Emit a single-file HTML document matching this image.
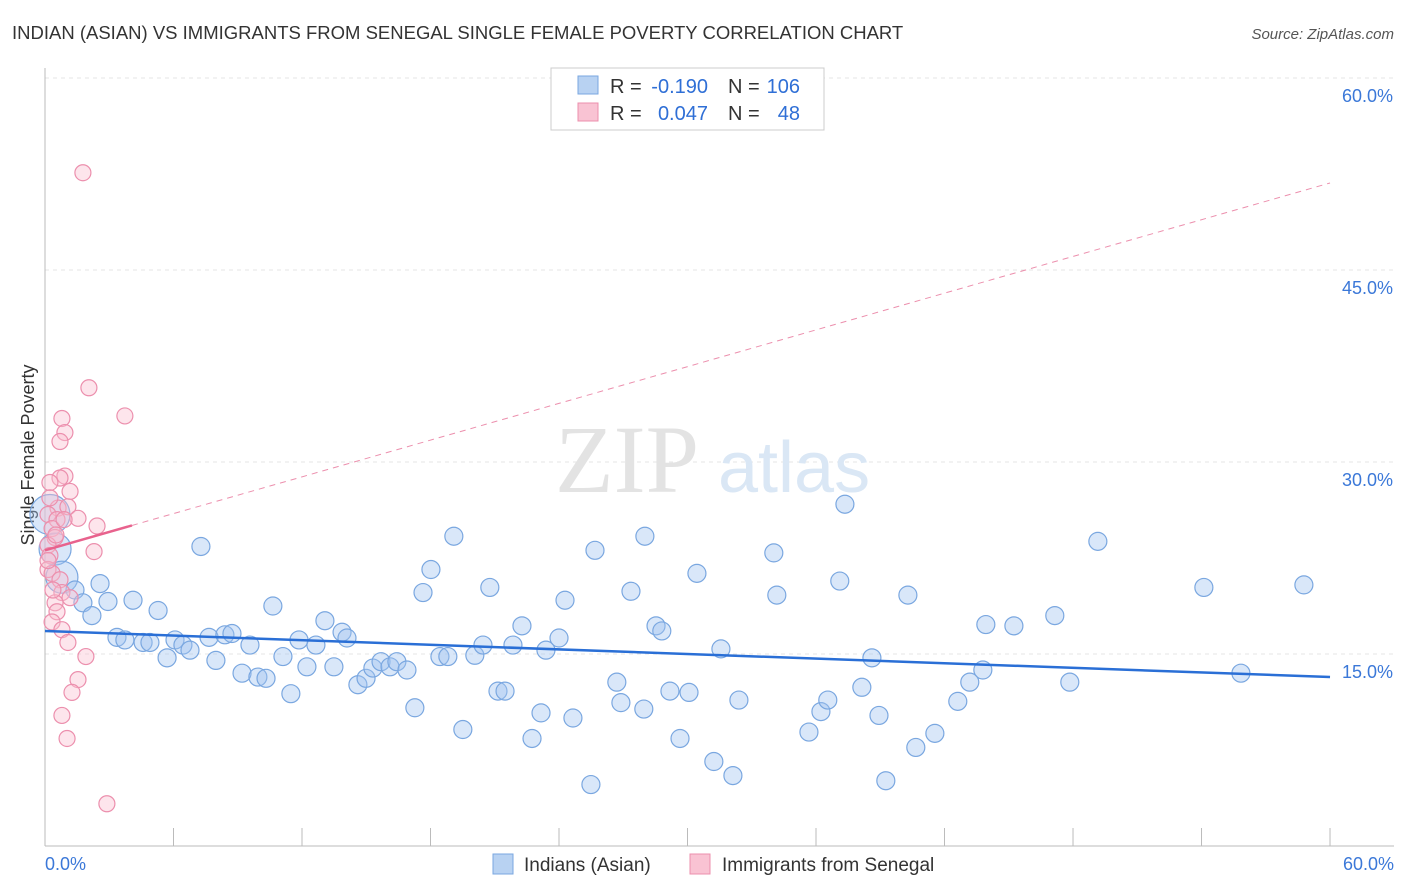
<!DOCTYPE html>
<html><head><meta charset="utf-8"><style>
body{margin:0;background:#fff;font-family:"Liberation Sans",sans-serif;}
svg{display:block}
</style></head><body>
<svg id="chart" width="1406" height="892">
<text x="12" y="39" font-size="18.5" fill="#333">INDIAN (ASIAN) VS IMMIGRANTS FROM SENEGAL SINGLE FEMALE POVERTY CORRELATION CHART</text>
<text x="1394" y="39" font-size="15" fill="#555" font-style="italic" text-anchor="end">Source: ZipAtlas.com</text>
<text x="0" y="0" font-size="18" fill="#333" transform="translate(34,455) rotate(-90)" text-anchor="middle">Single Female Poverty</text>
<g id="grid"></g>
<text x="555" y="492" font-size="96" fill="#e3e3e3" font-family="Liberation Serif">ZIP</text>
<text x="718" y="492" font-size="72" fill="#dae7f5">atlas</text>
<g id="marks"></g>
<g>
<rect x="551" y="68" width="273" height="62" fill="#fff" stroke="#ccc"/>
<rect x="578" y="76" width="20" height="18" fill="#b8d2f2" stroke="#7aa7e0"/>
<rect x="578" y="103" width="20" height="18" fill="#f9c3d3" stroke="#ec8fad"/>
<text x="610" y="93" font-size="20" fill="#333">R =</text>
<text x="708" y="93" font-size="20" fill="#2f6fd6" text-anchor="end">-0.190</text>
<text x="728" y="93" font-size="20" fill="#333">N =</text>
<text x="800" y="93" font-size="20" fill="#2f6fd6" text-anchor="end">106</text>
<text x="610" y="120" font-size="20" fill="#333">R =</text>
<text x="708" y="120" font-size="20" fill="#2f6fd6" text-anchor="end">0.047</text>
<text x="728" y="120" font-size="20" fill="#333">N =</text>
<text x="800" y="120" font-size="20" fill="#2f6fd6" text-anchor="end">48</text>
</g>
<g>
<rect x="493" y="854" width="20" height="20" fill="#b8d2f2" stroke="#7aa7e0"/>
<text x="524" y="871" font-size="19" fill="#333">Indians (Asian)</text>
<rect x="690" y="854" width="20" height="20" fill="#f9c3d3" stroke="#ec8fad"/>
<text x="722" y="871" font-size="19" fill="#333">Immigrants from Senegal</text>
</g>
</svg>
<script>
const yTicks=[15,30,45,60];
const yTickLabels=["15.0%","30.0%","45.0%","60.0%"];
const xTickLabels=["0.0%","60.0%"];
const blueX=[0.23,0.47,0.79,1.4,1.77,2.19,2.57,2.94,3.36,3.73,4.11,4.58,4.9,5.28,5.7,6.07,6.44,6.77,7.28,7.66,7.98,8.4,8.73,9.2,9.57,9.94,10.32,10.64,11.11,11.48,11.86,12.23,12.65,13.07,13.49,13.87,14.1,14.61,14.99,15.31,15.69,16.11,16.43,16.9,17.27,17.65,18.02,18.44,18.81,19.09,19.51,20.07,20.45,20.77,21.15,21.48,21.85,22.27,22.74,23.16,23.39,24.0,24.28,24.65,25.49,25.68,26.7,26.89,27.36,27.96,28.01,28.53,28.8,29.18,29.65,30.07,30.44,31.23,31.56,32.12,32.4,34.03,34.17,35.67,36.23,36.55,37.11,37.35,38.14,38.61,38.94,39.26,40.29,40.66,41.55,42.62,43.18,43.79,43.93,45.24,47.15,47.85,49.16,54.11,55.84,58.78];
const blueY=[25.9,23.2,21.0,20.0,19.0,18.0,20.5,19.1,16.3,16.1,19.2,15.9,15.9,18.4,14.7,16.1,15.7,15.3,23.4,16.3,14.5,16.5,16.6,13.5,15.7,13.2,13.1,18.75,14.8,11.9,16.1,14.0,15.7,17.6,14.0,16.7,16.25,12.6,13.1,13.9,14.4,14.0,14.4,13.75,10.8,19.8,21.6,14.8,14.8,24.2,9.1,14.9,15.7,20.2,12.1,12.1,15.7,17.2,8.4,10.4,15.3,16.25,19.2,10.0,4.8,23.1,12.8,11.2,19.9,10.7,24.2,17.2,16.8,12.1,8.4,12.0,21.3,6.6,15.4,5.5,11.4,22.9,19.6,8.9,10.5,11.4,20.7,26.7,12.4,14.7,10.2,5.1,19.6,7.7,8.8,11.3,12.8,13.75,17.3,17.2,18.0,12.8,23.8,20.2,13.5,20.4];
const pinkX=[1.77,2.05,3.73,0.79,0.93,0.7,0.93,0.7,0.23,1.17,0.61,1.07,0.14,1.54,0.56,2.43,0.33,0.47,0.14,2.29,0.23,0.14,0.33,0.7,0.79,1.17,0.47,0.56,0.33,0.79,1.07,1.91,1.54,1.26,0.79,1.03,2.89,0.14,0.37,0.23,0.51,0.89];
const pinkY=[52.6,35.8,33.6,33.4,32.3,31.6,28.9,28.75,28.4,27.7,26.4,26.5,25.9,25.6,25.5,25.0,24.8,24.1,23.5,23.0,22.7,21.6,21.3,20.8,19.8,19.4,19.0,18.3,17.5,16.9,15.9,14.8,13.0,12.0,10.2,8.4,3.3,22.3,20.0,27.2,24.3,25.5];
const blueTrend=[16.8,13.2];
const pinkTrend=[23.1,51.8];
const pinkSolidEnd=4.06;
const NS="http://www.w3.org/2000/svg";
const xs=v=>45+v*21.417, ys=v=>846-v*12.8;
function mk(t,a,p){const e=document.createElementNS(NS,t);for(const k in a)e.setAttribute(k,a[k]);p.appendChild(e);return e;}
const grid=document.getElementById('grid'), marks=document.getElementById('marks');
yTicks.forEach((v,i)=>{
 const l=mk('line',{x1:45,x2:1394,y1:ys(v),y2:ys(v),stroke:'#e4e4e4','stroke-dasharray':'4,4'},grid);
 
 
 const t=mk('text',{x:1393,y:ys(v)+24,'font-size':18,fill:'#3b78d8','text-anchor':'end'},grid);
 t.textContent=yTickLabels[i];
 
 
});
const ax=mk('line',{x1:45,x2:45,y1:68,y2:846,stroke:'#bbb'},grid);


const bx=mk('line',{x1:45,x2:1394,y1:846,y2:846,stroke:'#bbb'},grid);


for(let i=0;i<=10;i++){const x=xs(i*6);const tk=mk('line',{x1:x,x2:x,y1:828,y2:846,stroke:'#bbb'},grid);
 
 }
[[0,'start',45],[60,'end',1394]].forEach((d,i)=>{const t=mk('text',{x:d[2],y:870,'font-size':18,fill:'#3b78d8','text-anchor':d[1]},grid);t.textContent=xTickLabels[i];
 
 });
const pd=mk('line',{x1:xs(pinkSolidEnd),y1:ys(pinkTrend[0]+(pinkTrend[1]-pinkTrend[0])*pinkSolidEnd/60),x2:xs(60),y2:ys(pinkTrend[1]),stroke:'#ec8fad','stroke-dasharray':'6,5','stroke-width':1},marks);


blueX.forEach((v,i)=>{const c=mk('circle',{cx:xs(v),cy:ys(blueY[i]),r:i<3?(i==0?20:16):9,fill:'rgba(160,195,240,0.4)',stroke:'#7aa7e0','stroke-width':1.2},marks);
 
 });
pinkX.forEach((v,i)=>{const c=mk('circle',{cx:xs(v),cy:ys(pinkY[i]),r:8,fill:'rgba(249,190,208,0.4)',stroke:'#ec8fad','stroke-width':1.2},marks);
 
 });
const bt=mk('line',{x1:xs(0),y1:ys(blueTrend[0]),x2:xs(60),y2:ys(blueTrend[1]),stroke:'#2a6fd6','stroke-width':2.5},marks);


const ps=mk('line',{x1:xs(0),y1:ys(pinkTrend[0]),x2:xs(pinkSolidEnd),y2:ys(pinkTrend[0]+(pinkTrend[1]-pinkTrend[0])*pinkSolidEnd/60),stroke:'#e8628d','stroke-width':2.5},marks);


</script>
</body></html>
